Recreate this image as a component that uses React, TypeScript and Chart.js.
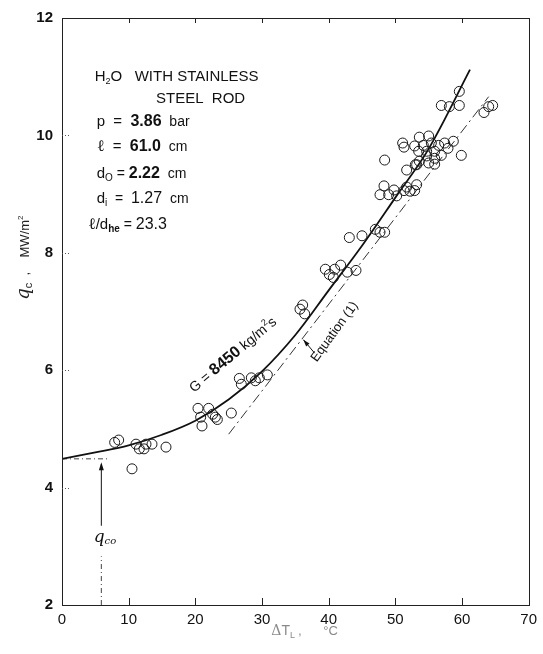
import React, { useEffect, useRef } from "react";
import { Chart, registerables } from "chart.js";

Chart.register(...registerables);

// ---- data ----
const xTickValues = [0, 10, 20, 30, 40, 50, 60, 70];
const yTickValues = [2, 4, 6, 8, 10, 12];

const measuredX = [
  7.9, 8.5, 10.5, 11.1, 11.6, 12.3, 12.6, 13.5, 15.6,
  20.4, 20.8, 21.0, 22.0, 22.6, 23.0, 23.3, 25.4,
  26.6, 26.9, 28.4, 29.0, 29.6, 30.8,
  35.7, 36.1, 36.4,
  39.5, 40.1, 40.9, 41.8, 40.7, 42.8, 44.1,
  43.1, 45.0, 47.0, 47.7, 48.4,
  48.4,
  48.3, 47.7, 49.0, 49.8, 50.2, 51.3, 51.7, 52.2, 53.2, 52.9,
  51.7, 53.0,
  53.6, 55.0, 55.4, 54.2, 52.9, 53.5, 54.7, 55.9, 56.5, 57.4, 58.7, 57.9,
  56.9, 55.9, 54.7, 53.6, 55.0, 55.9, 53.2, 51.1, 51.3,
  59.9,
  56.9, 58.1, 59.6, 59.6,
  63.3, 64.0, 64.6,
];
const measuredY = [
  4.77, 4.81, 4.32, 4.74, 4.66, 4.66, 4.74, 4.74, 4.69,
  5.35, 5.20, 5.05, 5.35, 5.25, 5.20, 5.16, 5.27,
  5.86, 5.76, 5.87, 5.82, 5.87, 5.92,
  7.04, 7.11, 6.96,
  7.72, 7.63, 7.72, 7.79, 7.58, 7.67, 7.70,
  8.26, 8.29, 8.40, 8.35, 8.35,
  9.58,
  9.14, 8.99, 8.99, 9.07, 8.97, 9.06, 9.12, 9.05, 9.16, 9.06,
  9.41, 9.50,
  9.97, 9.99, 9.87, 9.83, 9.82, 9.73, 9.73, 9.73, 9.83, 9.87, 9.90, 9.78,
  9.66, 9.61, 9.65, 9.56, 9.53, 9.51, 9.50, 9.87, 9.80,
  9.66,
  10.51, 10.49, 10.51, 10.75,
  10.39, 10.49, 10.51,
];

const curveX = [0, 5, 10, 15, 20, 25, 30, 35, 40, 45, 50, 55, 61.2];
const curveY = [4.49, 4.6, 4.72, 4.9, 5.14, 5.5, 5.98, 6.6, 7.36, 8.12, 8.94, 9.77, 11.12];

const equationX = [25, 64];
const equationY = [4.91, 10.66];

const qcoValue = 4.49;
const qcoMarkerX = 5.9;
const qcoLineEndX = 6.8;

// ---- helpers ----
const SANS = '"Liberation Sans", Arial, Helvetica, sans-serif';
const SERIF = '"DejaVu Serif", "Liberation Serif", serif';

type Run = { t: string; size: number; bold?: boolean; italic?: boolean; shift?: number; family?: string };

function drawRuns(ctx: CanvasRenderingContext2D, runs: Run[], x: number, y: number, angle: number, color: string) {
  ctx.save();
  ctx.translate(x, y);
  ctx.rotate(angle);
  ctx.fillStyle = color;
  ctx.textBaseline = "alphabetic";
  ctx.textAlign = "left";
  let cx = 0;
  for (const r of runs) {
    ctx.font = `${r.italic ? "italic " : ""}${r.bold ? "bold " : ""}${r.size}px ${r.family ?? SANS}`;
    ctx.fillText(r.t, cx, r.shift ?? 0);
    cx += ctx.measureText(r.t).width;
  }
  ctx.restore();
}

function arrowHead(ctx: CanvasRenderingContext2D, fx: number, fy: number, tx: number, ty: number, len: number, half: number) {
  const a = Math.atan2(ty - fy, tx - fx);
  ctx.beginPath();
  ctx.moveTo(tx, ty);
  ctx.lineTo(tx - len * Math.cos(a) + half * Math.sin(a), ty - len * Math.sin(a) - half * Math.cos(a));
  ctx.lineTo(tx - len * Math.cos(a) - half * Math.sin(a), ty - len * Math.sin(a) + half * Math.cos(a));
  ctx.closePath();
  ctx.fill();
}

const framePlugin = {
  id: "framePlugin",
  afterDatasetsDraw(chart: any) {
    const { ctx, chartArea: ca, scales } = chart;
    const xs = scales.x;
    const ys = scales.y;
    const X = (v: number) => xs.getPixelForValue(v);
    const Y = (v: number) => ys.getPixelForValue(v);
    ctx.save();
    // box
    ctx.strokeStyle = "#222";
    ctx.lineWidth = 1;
    ctx.strokeRect(Math.round(ca.left) + 0.5, Math.round(ca.top) + 0.5, Math.round(ca.right - ca.left), Math.round(ca.bottom - ca.top));
    // inward ticks
    ctx.beginPath();
    for (const v of xTickValues.slice(1, -1)) {
      const px = Math.round(X(v)) + 0.5;
      ctx.moveTo(px, ca.bottom);
      ctx.lineTo(px, ca.bottom - 7);
      ctx.moveTo(px, ca.top);
      ctx.lineTo(px, ca.top + 5);
    }
    ctx.stroke();
    ctx.setLineDash([1, 2]);
    ctx.strokeStyle = "#555";
    ctx.beginPath();
    for (const v of yTickValues.slice(1, -1)) {
      const py = Math.round(Y(v)) + 0.5;
      ctx.moveTo(ca.left, py);
      ctx.lineTo(ca.left + 9, py);
    }
    ctx.stroke();
    ctx.setLineDash([]);

    // arrows
    ctx.fillStyle = "#111";
    ctx.strokeStyle = "#111";
    arrowHead(ctx, X(qcoMarkerX), Y(3.6), X(qcoMarkerX), Y(4.43), 8, 2.5);
    ctx.lineWidth = 1;
    ctx.beginPath();
    ctx.moveTo(X(37.9), Y(6.29));
    ctx.lineTo(X(36.2), Y(6.52));
    ctx.stroke();
    arrowHead(ctx, X(37.9), Y(6.29), X(36.2), Y(6.52), 7, 2.2);

    // text block
    const c = "#111";
    drawRuns(ctx, [
      { t: "H", size: 15 }, { t: "2", size: 9, shift: 3 }, { t: "O   WITH STAINLESS", size: 15 },
    ], X(4.9), Y(10.92), 0, c);
    drawRuns(ctx, [{ t: "STEEL  ROD", size: 15 }], X(14.1), Y(10.55), 0, c);
    drawRuns(ctx, [
      { t: "p  =  ", size: 15 }, { t: "3.86", size: 16, bold: true }, { t: "  bar", size: 14 },
    ], X(5.2), Y(10.16), 0, c);
    drawRuns(ctx, [
      { t: "ℓ", size: 16, family: SERIF }, { t: "  =  ", size: 15 }, { t: "61.0", size: 16, bold: true }, { t: "  cm", size: 14 },
    ], X(5.2), Y(9.73), 0, c);
    drawRuns(ctx, [
      { t: "d", size: 15 }, { t: "O", size: 10, shift: 3 }, { t: " = ", size: 14 }, { t: "2.22", size: 16, bold: true }, { t: "  cm", size: 14 },
    ], X(5.2), Y(9.28), 0, c);
    drawRuns(ctx, [
      { t: "d", size: 15 }, { t: "i", size: 10, shift: 3 }, { t: "  =  ", size: 14 }, { t: "1.27", size: 16 }, { t: "  cm", size: 14 },
    ], X(5.2), Y(8.85), 0, c);
    drawRuns(ctx, [
      { t: "ℓ", size: 16, family: SERIF }, { t: "/d", size: 15 }, { t: "he", size: 10, shift: 3, bold: true }, { t: " = ", size: 14 }, { t: "23.3", size: 16 },
    ], X(3.9), Y(8.40), 0, c);

    // curve label
    drawRuns(ctx, [
      { t: "G = ", size: 14 }, { t: "8450", size: 16, bold: true }, { t: " kg/m", size: 14 }, { t: "2", size: 9, shift: -6 }, { t: "s", size: 14 },
    ], X(19.8), Y(5.61), (-40 * Math.PI) / 180, c);

    // equation label
    drawRuns(ctx, [{ t: "Equation (1)", size: 13 }], X(38.2), Y(6.13), (-54 * Math.PI) / 180, c);

    // q_co label
    drawRuns(ctx, [
      { t: "q", size: 17, italic: true, family: SERIF }, { t: "co", size: 10, italic: true, family: SERIF, shift: 2 },
    ], X(4.75), Y(3.08), 0, c);

    // axis titles
    drawRuns(ctx, [
      { t: "Δ", size: 14, family: SERIF }, { t: "T", size: 14 }, { t: "L", size: 9, shift: 3 }, { t: " ,", size: 12 },
      { t: "      °C", size: 13 },
    ], X(31.4), ca.bottom + 30, 0, "#8a8a8a");

    drawRuns(ctx, [
      { t: "q", size: 18, italic: true, family: SERIF }, { t: "c", size: 11, shift: 3 }, { t: "  ,", size: 13 },
      { t: "    MW/m", size: 13 }, { t: "2", size: 8, shift: -6 },
    ], ca.left - 33, Y(7.2), -Math.PI / 2, "#222");

    ctx.restore();
  },
};

export default function App() {
  const ref = useRef<HTMLCanvasElement | null>(null);

  useEffect(() => {
    if (!ref.current) return;
    const pts = measuredX.map((x, i) => ({ x, y: measuredY[i] }));
    const curve = curveX.map((x, i) => ({ x, y: curveY[i] }));
    const eq = equationX.map((x, i) => ({ x, y: equationY[i] }));

    const chart = new Chart(ref.current, {
      type: "scatter",
      data: {
        datasets: [
          {
            label: "data",
            data: pts,
            showLine: false,
            pointStyle: "circle",
            pointRadius: 5,
            pointBorderWidth: 1,
            pointBorderColor: "#1a1a1a",
            pointBackgroundColor: "rgba(255,255,255,0)",
          },
          {
            label: "G = 8450",
            data: curve,
            showLine: true,
            pointRadius: 0,
            borderColor: "#111",
            borderWidth: 1.8,
            tension: 0.35,
          },
          {
            label: "Equation (1)",
            data: eq,
            showLine: true,
            pointRadius: 0,
            borderColor: "#333",
            borderWidth: 1,
            borderDash: [10, 4, 2, 4],
          },
          {
            label: "qco level",
            data: [{ x: 0, y: qcoValue }, { x: qcoLineEndX, y: qcoValue }],
            showLine: true,
            pointRadius: 0,
            borderColor: "#444",
            borderWidth: 1,
            borderDash: [5, 3, 1, 3],
          },
          {
            label: "qco marker",
            data: [{ x: qcoMarkerX, y: 3.35 }, { x: qcoMarkerX, y: 4.4 }],
            showLine: true,
            pointRadius: 0,
            borderColor: "#111",
            borderWidth: 1,
          },
          {
            label: "qco marker lower",
            data: [{ x: qcoMarkerX, y: 2 }, { x: qcoMarkerX, y: 2.83 }],
            showLine: true,
            pointRadius: 0,
            borderColor: "#444",
            borderWidth: 1,
            borderDash: [5, 3, 1, 3],
          },
        ],
      },
      options: {
        responsive: false,
        animation: false,
        devicePixelRatio: 1,
        layout: { padding: { left: 0, top: 14, right: 10, bottom: 0 } },
        plugins: {
          legend: { display: false },
          tooltip: { enabled: false },
          title: { display: false },
        },
        scales: {
          x: {
            type: "linear",
            min: 0,
            max: 70,
            afterBuildTicks: (s: any) => {
              s.ticks = xTickValues.map((v) => ({ value: v }));
            },
            afterFit: (s: any) => {
              s.height = 49;
            },
            grid: { display: false, drawTicks: false },
            border: { display: false },
            ticks: {
              padding: 6,
              color: "#111",
              font: { family: SANS, size: 15 },
              maxRotation: 0,
            },
          },
          y: {
            type: "linear",
            min: 2,
            max: 12,
            afterBuildTicks: (s: any) => {
              s.ticks = yTickValues.map((v) => ({ value: v }));
            },
            afterFit: (s: any) => {
              s.width = 62;
            },
            grid: { display: false, drawTicks: false },
            border: { display: false },
            ticks: {
              padding: 9,
              color: "#111",
              font: { family: SANS, size: 15, weight: "bold" },
            },
          },
        },
      },
      plugins: [framePlugin],
    });
    return () => chart.destroy();
  }, []);

  return (
    <div style={{ position: "absolute", left: 0, top: 0, width: 543, height: 654, background: "#fff" }}>
      <canvas ref={ref} width={543} height={654} style={{ display: "block" }} />
    </div>
  );
}
